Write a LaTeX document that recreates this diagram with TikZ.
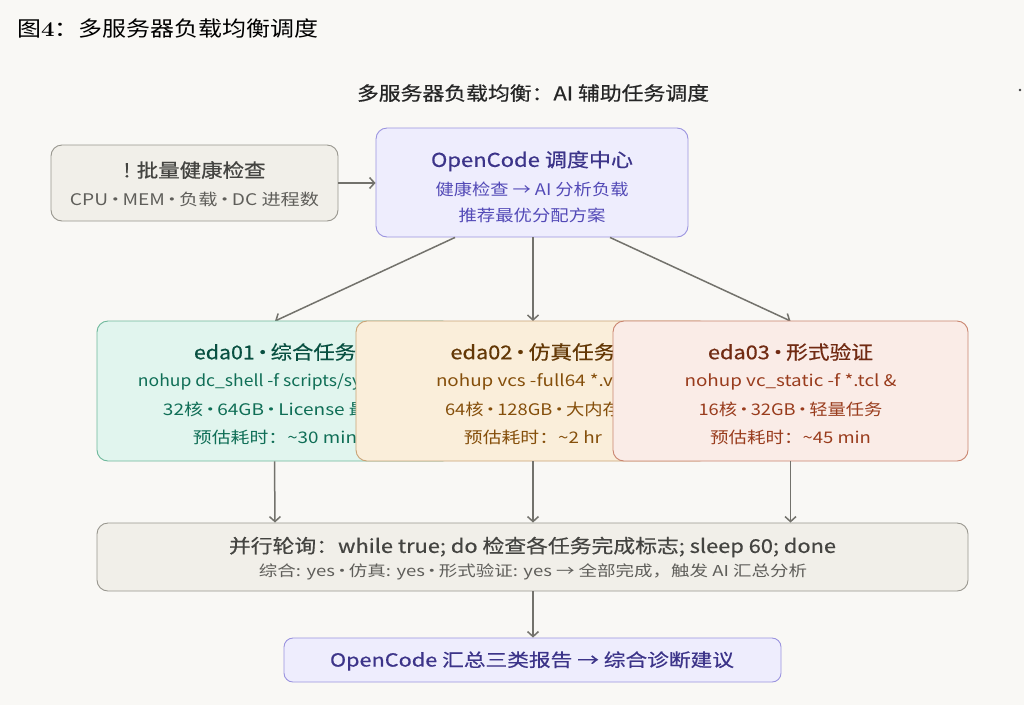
\documentclass[tikz,border=0pt]{standalone}
\usepackage{fontspec}
\usepackage{graphicx}
\usetikzlibrary{arrows.meta}
\newfontfamily\cjk{Noto Sans CJK SC}
\newfontfamily\cjkm[FakeBold=0.5]{Noto Sans CJK SC}
\newcommand\fw[2]{\resizebox{#1pt}{\height}{#2}}
\newcommand\md{\makebox[0.3em]{·}}
\definecolor{bg}{HTML}{F9F8F5}
\definecolor{grayfill}{HTML}{F1EFE9}
\definecolor{graydraw}{HTML}{98968E}
\definecolor{graytxt}{HTML}{444441}
\definecolor{graysub}{HTML}{5F5E5A}
\definecolor{purfill}{HTML}{EEEDFD}
\definecolor{purdraw}{HTML}{9A93DF}
\definecolor{purtxt}{HTML}{3C3489}
\definecolor{pursub}{HTML}{534AB7}
\definecolor{grnfill}{HTML}{E1F5EE}
\definecolor{grndraw}{HTML}{6DB89B}
\definecolor{grntxt}{HTML}{085041}
\definecolor{grnsub}{HTML}{0F6E56}
\definecolor{ambfill}{HTML}{FAEEDA}
\definecolor{ambdraw}{HTML}{C9A274}
\definecolor{ambtxt}{HTML}{633806}
\definecolor{ambsub}{HTML}{854F0B}
\definecolor{corfill}{HTML}{FAECE7}
\definecolor{cordraw}{HTML}{C9846E}
\definecolor{cortxt}{HTML}{712B13}
\definecolor{corsub}{HTML}{993C1D}
\definecolor{arrc}{HTML}{73726C}
\begin{document}
\begin{tikzpicture}[x=1pt,y=-1pt,
  box/.style={draw, rounded corners=11pt, line width=0.9pt, inner sep=0pt},
  ttl/.style={inner sep=0pt, font=\cjkm\fontsize{19}{21}\selectfont},
  sub/.style={inner sep=0pt, font=\cjk\fontsize{16}{18}\selectfont},
  arr/.style={draw=arrc, line width=1.5pt, -{Straight Barb[length=5pt,width=11pt,line width=1.5pt]}}]
\useasboundingbox (0,0) rectangle (1024,705);
\fill[bg] (0,0) rectangle (1024,705);
% page title
\node[anchor=west, inner sep=0pt, text=black] (title) at (17,28)
  {\fw{301}{\cjk\fontsize{21}{23}\selectfont 图{\normalfont\bfseries\fontsize{21}{23}\selectfont 4}：多服务器负载均衡调度}};
\node[ttl, text=black!85] (subtitle) at (533,93) {\fw{352}{多服务器负载均衡：AI 辅助任务调度}};
\fill[black!75] (1020,90) circle (1.4pt);
\coordinate (dot) at (1020,90);
% health check
\node[box, fill=grayfill, draw=graydraw, minimum width=287pt, minimum height=76pt] (health) at (194.5,183) {};
\node[ttl, text=graytxt] (h1) at (194.5,170) {\fw{142}{! 批量健康检查}};
\node[sub, text=graysub] (h2) at (194.5,199) {\fw{249}{CPU \md{} MEM \md{} 负载 \md{} DC 进程数}};
% OpenCode center
\node[box, fill=purfill, draw=purdraw, minimum width=312pt, minimum height=109pt] (oc) at (532,182.5) {};
\node[ttl, text=purtxt] (oc1) at (532,161) {\fw{202}{OpenCode 调度中心}};
\node[sub, text=pursub] (oc2) at (532,189) {\fw{193}{健康检查 → AI 分析负载}};
\node[sub, text=pursub] (oc3) at (532,215) {\fw{147}{推荐最优分配方案}};
% arrows top
\draw[arr] (health.east) -- (oc.west |- health.east);
\draw[arr] ([xshift=-77pt]oc.south) -- (275,321);
\draw[arr] (oc.south -| 533,0) -- (533,321);
\draw[arr] ([xshift=78pt]oc.south) -- (790.5,321);
% eda01
\node[box, fill=grnfill, draw=grndraw, minimum width=356pt, minimum height=140pt] (e1) at (275,391) {};
\node[ttl, text=grntxt] (e1a) at (275,352) {\fw{162}{eda01 \md{} 综合任务}};
\node[sub, text=grnsub] (e1b) at (275,382) {\fw{274}{nohup dc\_shell -f scripts/syn.tcl \&}};
\node[sub, text=grnsub] (e1c) at (275,409) {\fw{224}{32核 \md{} 64GB \md{} License 最多}};
\node[sub, text=grnsub] (e1d) at (275,437) {\fw{164}{预估耗时：\textasciitilde 30 min}};
% eda02
\node[box, fill=ambfill, draw=ambdraw, minimum width=354pt, minimum height=140pt] (e2) at (533,391) {};
\node[ttl, text=ambtxt] (e2a) at (533,352) {\fw{165}{eda02 \md{} 仿真任务}};
\node[sub, text=ambsub] (e2b) at (533,382) {\fw{194}{nohup vcs -full64 *.v \&}};
\node[sub, text=ambsub] (e2c) at (533,409) {\fw{176}{64核 \md{} 128GB \md{} 大内存}};
\node[sub, text=ambsub] (e2d) at (533,437) {\fw{138}{预估耗时：\textasciitilde 2 hr}};
% eda03
\node[box, fill=corfill, draw=cordraw, minimum width=355pt, minimum height=140pt] (e3) at (790.5,391) {};
\node[ttl, text=cortxt] (e3a) at (790.5,352) {\fw{165}{eda03 \md{} 形式验证}};
\node[sub, text=corsub] (e3b) at (790.5,382) {\fw{212}{nohup vc\_static -f *.tcl \&}};
\node[sub, text=corsub] (e3c) at (790.5,409) {\fw{184}{16核 \md{} 32GB \md{} 轻量任务}};
\node[sub, text=corsub] (e3d) at (790.5,437) {\fw{161}{预估耗时：\textasciitilde 45 min}};
% polling
\node[box, fill=grayfill, draw=graydraw, minimum width=871pt, minimum height=68pt] (poll) at (532.5,557) {};
\node[ttl, text=graytxt] (p1) at (532.5,547) {\fw{607}{并行轮询：while true; do 检查各任务完成标志; sleep 60; done}};
\node[inner sep=0pt, font=\cjk\fontsize{15}{17}\selectfont, text=graysub] (p2) at (533,572) {\fw{548}{综合: yes \md{} 仿真: yes \md{} 形式验证: yes → 全部完成，触发 AI 汇总分析}};
\draw[arr] ([xshift=-0.5pt]e1.south) -- (e1.south |- poll.north);
\draw[arr] (e2.south) -- (e2.south |- poll.north);
\draw[arr] (e3.south) -- (e3.south |- poll.north);
% final
\node[box, rounded corners=9pt, fill=purfill, draw=purdraw, minimum width=497pt, minimum height=44pt] (fin) at (532.5,660) {};
\node[inner sep=0pt, font=\cjkm\fontsize{18}{20}\selectfont, text=purtxt] (f1) at (532,661) {\fw{404}{OpenCode 汇总三类报告 → 综合诊断建议}};
\draw[arr] (poll.south -| 533,0) -- (fin.north -| 533,0);
\end{tikzpicture}
\end{document}
